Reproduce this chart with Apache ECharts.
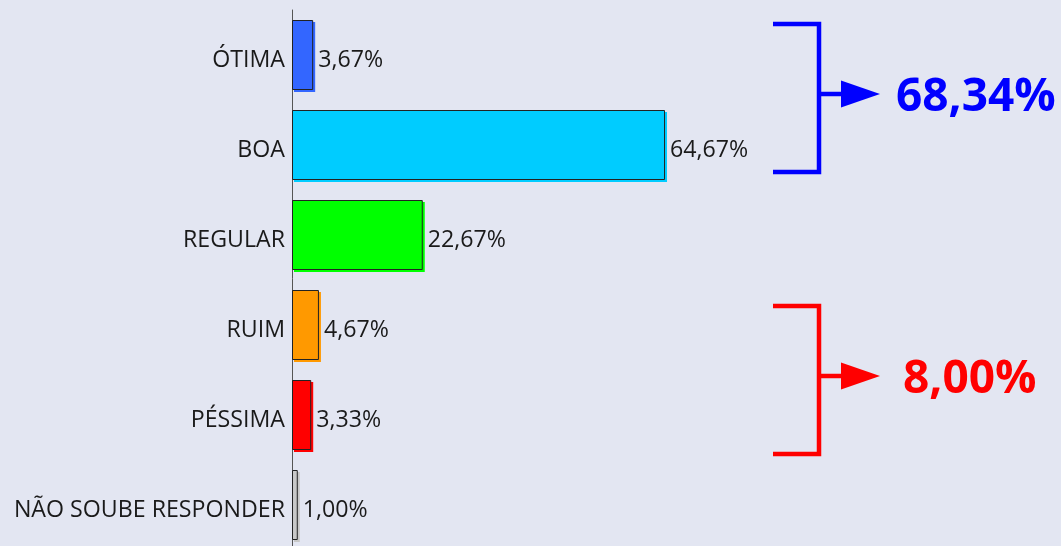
<!DOCTYPE html>
<html><head><meta charset="utf-8">
<script src="https://cdn.jsdelivr.net/npm/echarts@6/dist/echarts.min.js"></script>
<style>html,body{margin:0;padding:0;background:#E3E6F2;}#c{width:1061px;height:546px;}</style>
</head><body><div id="c"></div>
<script>
const categories = ['ÓTIMA','BOA','REGULAR','RUIM','PÉSSIMA','NÃO SOUBE RESPONDER'];
const values = [3.67, 64.67, 22.67, 4.67, 3.33, 1.00];
const barColors = ['#3366FF','#00CCFF','#00FF00','#FF9900','#FF0000','#C8C8C8'];
const positiveIdx = [0,1];
const negativeIdx = [3,4];

const fmt = v => v.toFixed(2).replace('.', ',') + '%';
const posSum = positiveIdx.reduce((s,i)=>s+values[i],0);
const negSum = negativeIdx.reduce((s,i)=>s+values[i],0);

const chart = echarts.init(document.getElementById('c'));
chart.setOption({
  backgroundColor: '#E3E6F2',
  animation: false,
  grid: {left: 292, top: 10, width: 576.8, height: 540, outerBoundsMode: 'none', containLabel: false},
  xAxis: {type: 'value', min: 0, max: 100, show: false},
  yAxis: {
    type: 'category', data: categories, inverse: true,
    axisLine: {show: true, lineStyle: {color: '#555', width: 1}},
    axisTick: {show: false},
    axisLabel: {color: '#1a1a1a', fontFamily: 'Open Sans', fontSize: 23.2, margin: 7,
      verticalAlign: 'top', lineHeight: 10}
  },
  series: [{
    type: 'bar', barWidth: 70,
    data: values.map((v,i)=>({value: v, itemStyle: {color: barColors[i]}})),
    itemStyle: {borderColor: '#222', borderWidth: 1},
    label: {show: true, position: 'right', distance: 5, offset: [0,5], formatter: p => fmt(p.value),
      color: '#1a1a1a', fontFamily: 'Open Sans', fontSize: 23.2}
  }]
});

function bracket(top, bot, color, text, tx) {
  const mid = (top + bot) / 2, am = mid - 4;
  const xL = 773, xV = 819, xTip = 880;
  return [
    {type: 'polyline', shape: {points: [[xL, top],[xV, top],[xV, bot],[xL, bot]]},
     style: {stroke: color, lineWidth: 4.5, fill: null}},
    {type: 'line', shape: {x1: xV, y1: am, x2: 845, y2: am}, style: {stroke: color, lineWidth: 4.5}},
    {type: 'polygon', shape: {points: [[841, am-13.5],[xTip, am],[841, am+13.5]]}, style: {fill: color}},
    {type: 'text', x: tx, y: mid, style: {text: text, fill: color, font: 'bold 46px "Open Sans"', textVerticalAlign: 'middle', verticalAlign: 'middle'}}
  ];
}
const shadows = values.map((v,i)=>{
  const p0 = chart.convertToPixel({gridIndex: 0}, [0, categories[i]]);
  const p1 = chart.convertToPixel({gridIndex: 0}, [v, categories[i]]);
  return {type: 'rect', z: -1, shape: {x: p0[0]+2, y: p0[1]-35+2, width: p1[0]-p0[0], height: 70}, style: {fill: barColors[i]}};
});
chart.setOption({graphic: [].concat(shadows,
  bracket(24, 172, '#0000FF', fmt(posSum), 896),
  bracket(306, 454, '#FF0000', fmt(negSum), 903))});
</script></body></html>
